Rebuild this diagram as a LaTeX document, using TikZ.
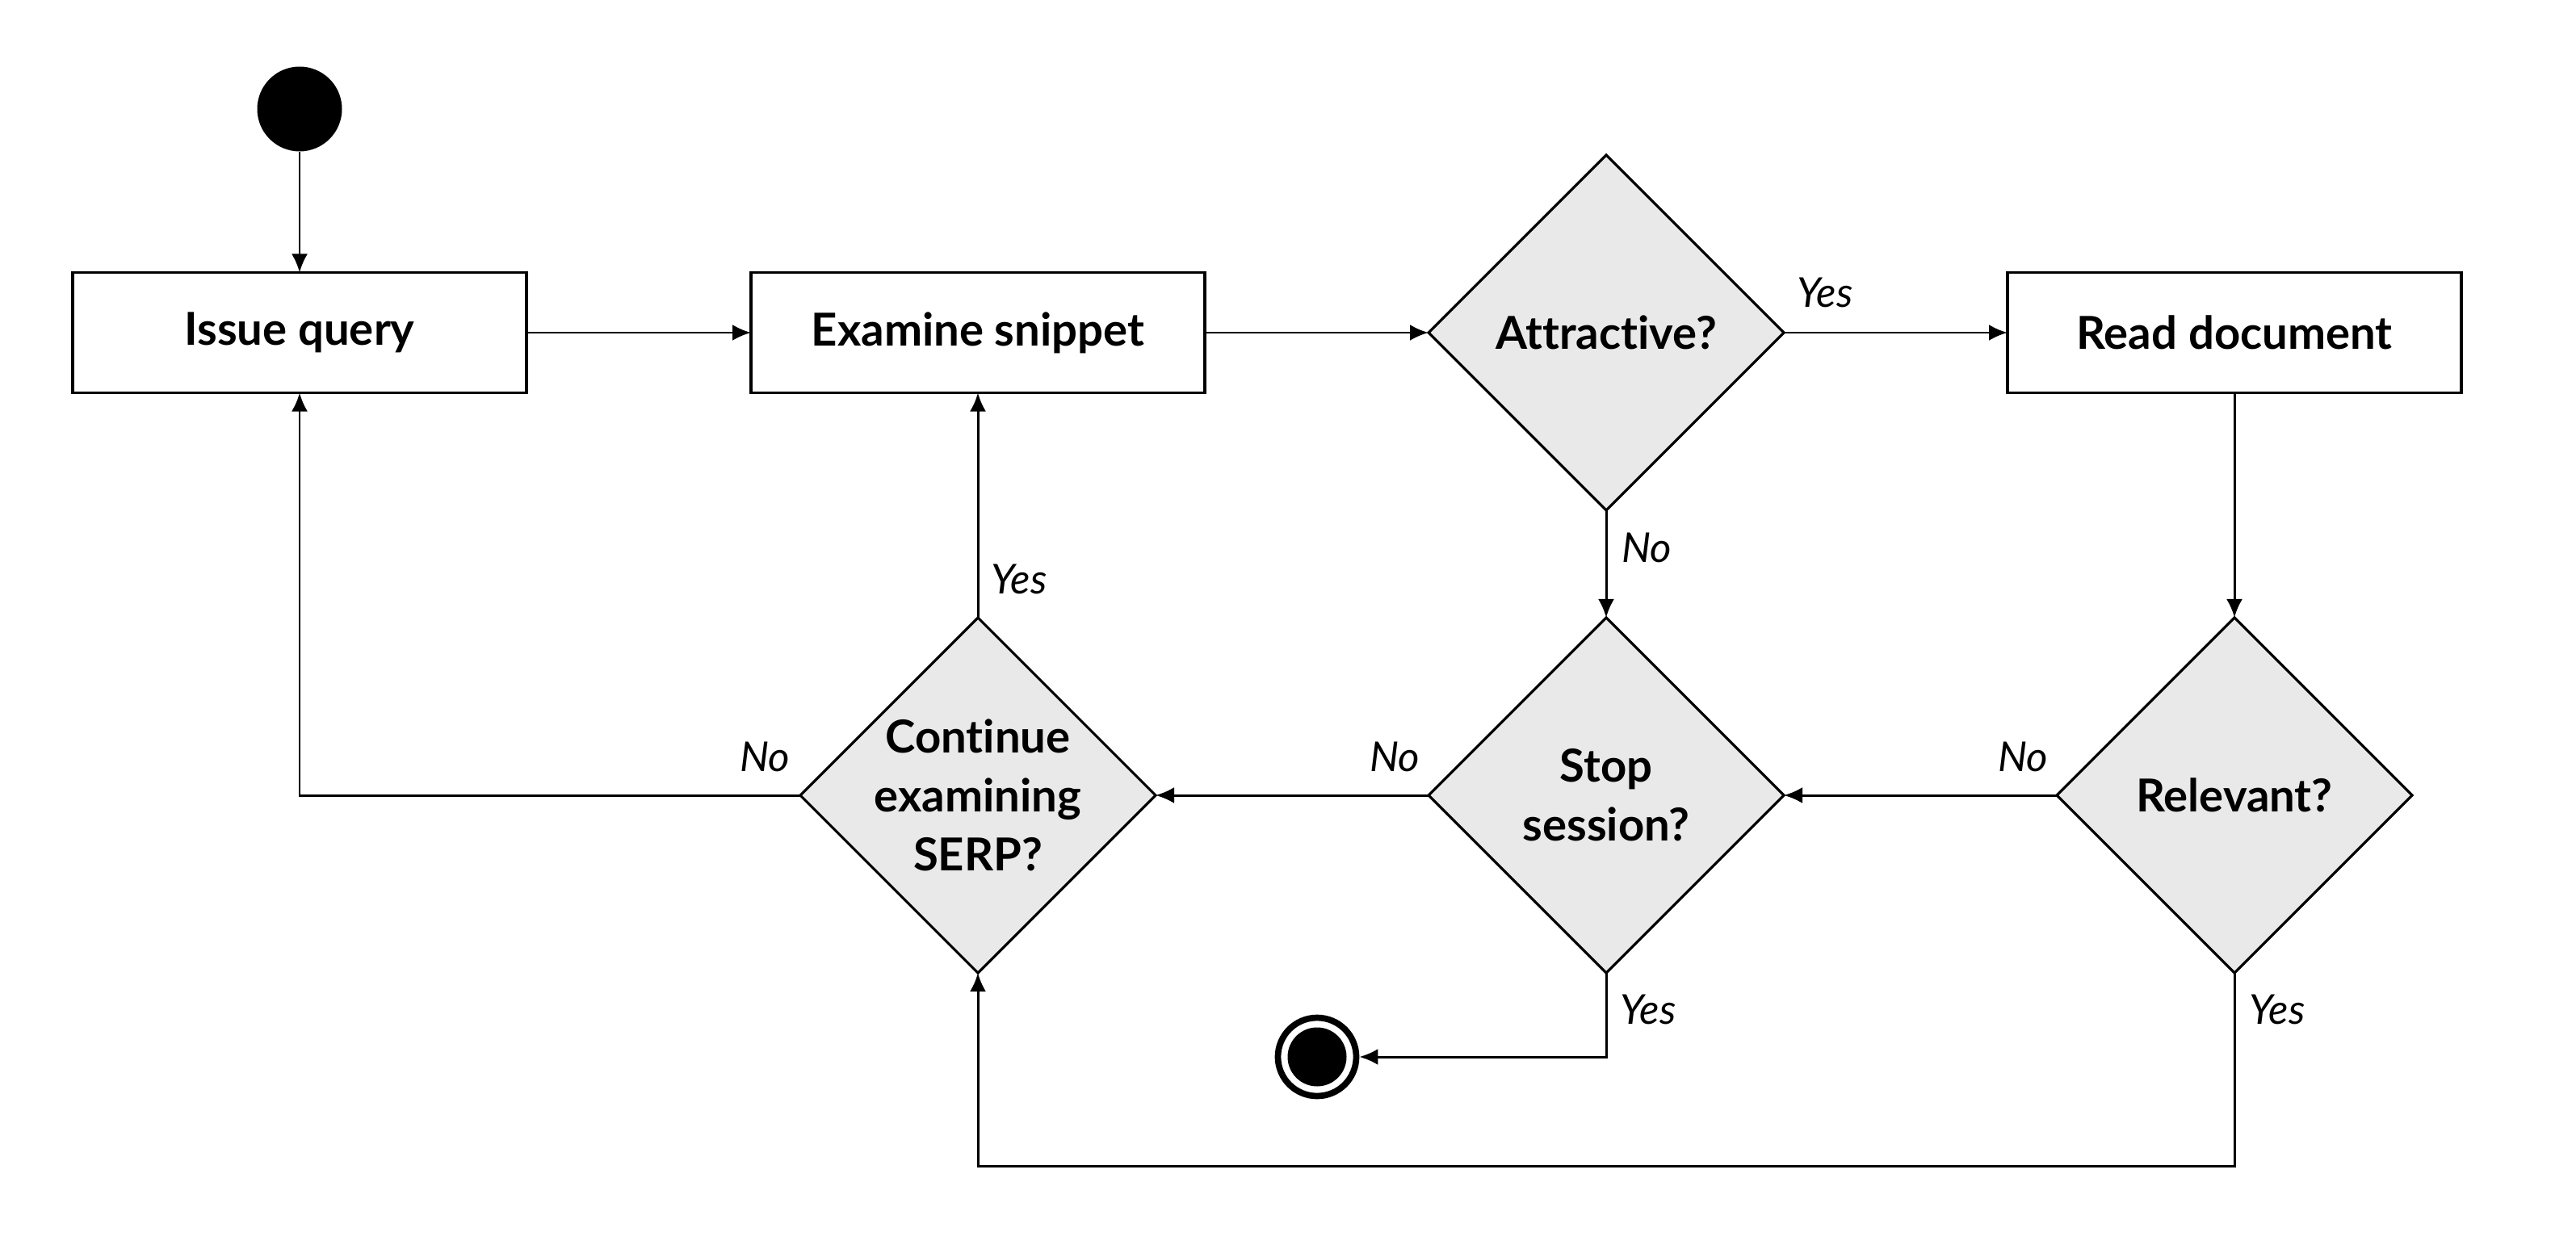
\documentclass[tikz,border=0pt]{standalone}
\usepackage{fontspec}
\setmainfont{Lato}[Ligatures=NoCommon]
\usepackage{xcolor}
\usetikzlibrary{arrows.meta}
\usetikzlibrary{shapes.geometric}
\definecolor{decfill}{HTML}{E9E9E9}

\begin{document}
\begin{tikzpicture}[
		stepbox/.style={draw, line width=0.9pt, minimum width=5.62cm, minimum height=1.49cm, inner sep=0pt, outer sep=0pt, font=\fontsize{16}{21}\selectfont\bfseries},
		decision/.style={diamond, draw, line width=0.9pt, fill=decfill, aspect=1, minimum size=4.4cm, inner sep=-0.35cm, outer sep=0pt, align=center, font=\fontsize{16}{20.8}\selectfont\bfseries},
		flow/.style={line width=0.85pt, -{Latex[length=2.3mm, width=2mm]}},
		yn/.style={font=\fontsize{14.5}{17}\selectfont\itshape},
	]
		\useasboundingbox (0,0) rectangle (31.9,-15.42);
		% start and end
		\node[circle, fill=black, minimum size=1.05cm, inner sep=0pt] (start) at (3.71,-1.35) {};
		\node[circle, draw, line width=2.2pt, minimum size=0.97cm, inner sep=0pt] (end) at (16.31,-13.09) {};
		\node[circle, fill=black, minimum size=0.73cm, inner sep=0pt] (endcore) at (end) {};
		% steps
		\node[stepbox] (issue) at (3.71,-4.12) {Issue query};
		\node[stepbox] (snippet) at (12.11,-4.12) {Examine snippet};
		\node[stepbox] (readdoc) at (27.67,-4.12) {Read document};
		% decisions
		\node[decision] (attr) at (19.89,-4.12) {Attractive?};
		\node[decision] (cont) at (12.11,-9.85) {Continue\\examining\\SERP?};
		\node[decision] (stop) at (19.89,-9.85) {Stop\\session?};
		\node[decision] (rel) at (27.67,-9.85) {Relevant?};
		\coordinate (loop) at (0,-14.44);
		% arrows
		\draw[flow] (start) -- (issue);
		\draw[flow] (issue) -- (snippet);
		\draw[flow] (snippet) -- (attr);
		\draw[flow] (attr) -- (readdoc);
		\draw[flow] (readdoc) -- (rel);
		\draw[flow] (attr) -- (stop);
		\draw[flow] (rel) -- (stop);
		\draw[flow] (stop) -- (cont);
		\draw[flow] (cont) -- (snippet);
		\draw[flow] (cont.west) -| (issue.south);
		\draw[flow] (stop.south) |- (end.east);
		\draw[flow] (rel.south) -- (rel.south |- loop) -| (cont.south);
		% answers
		\node[yn] (yattr) at (22.6,-3.62) {Yes};
		\node[yn] (nattr) at (20.39,-6.78) {No};
		\node[yn] (ycont) at (12.62,-7.17) {Yes};
		\node[yn] (ncont) at (9.47,-9.37) {No};
		\node[yn] (nstop) at (17.27,-9.37) {No};
		\node[yn] (nrel) at (25.05,-9.37) {No};
		\node[yn] (ystop) at (20.41,-12.5) {Yes};
		\node[yn] (yrel) at (28.2,-12.5) {Yes};
	\end{tikzpicture}
\end{document}
